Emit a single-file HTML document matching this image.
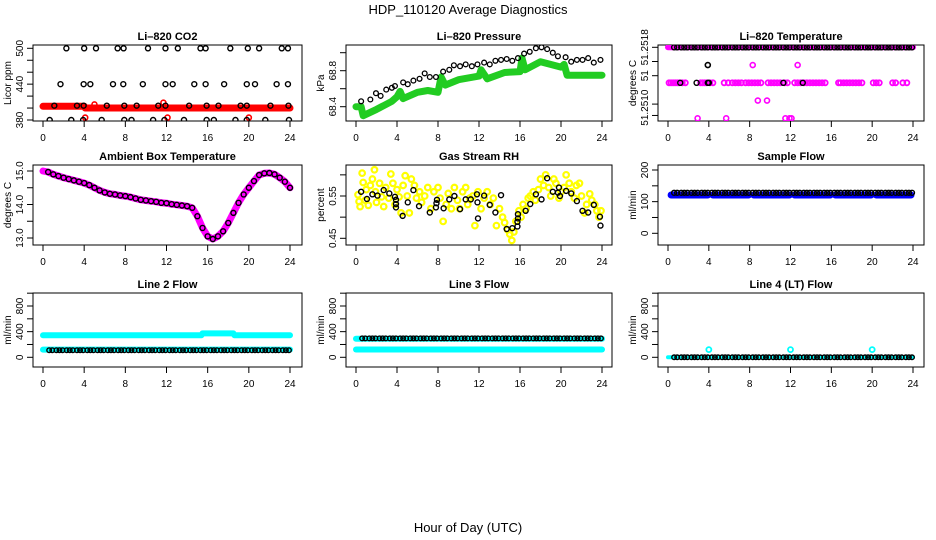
<!DOCTYPE html>
<html><head><meta charset="utf-8">
<style>
html,body{margin:0;padding:0;background:#fff;}
svg{display:block;font-family:"Liberation Sans",sans-serif;}
</style></head>
<body>
<svg id="chart" width="936" height="540" viewBox="0 0 936 540" xmlns="http://www.w3.org/2000/svg">
<text x="468" y="14" font-size="13" text-anchor="middle">HDP_110120  Average Diagnostics</text>
<text x="468" y="532" font-size="13" text-anchor="middle">Hour of Day (UTC)</text>
</svg>
<script>
// ---------- data ----------
const xTicks = [0,4,8,12,16,20,24];
const obsHours = [0.6,0.9,1.3,1.6,1.9,2.3,2.6,2.9,3.3,3.6,3.9,4.3,4.6,4.9,5.3,5.6,5.9,6.3,6.6,6.9,7.3,7.6,7.9,8.3,8.6,8.9,9.3,9.6,9.9,10.3,10.6,10.9,11.3,11.6,11.9,12.3,12.6,12.9,13.3,13.6,13.9,14.3,14.6,14.9,15.3,15.6,15.9,16.3,16.6,16.9,17.3,17.6,17.9,18.3,18.6,18.9,19.3,19.6,19.9,20.3,20.6,20.9,21.3,21.6,21.9,22.3,22.6,22.9,23.3,23.6,23.9];

// CO2
const co2H500 = [2.27,4.0,5.15,7.25,7.83,10.2,11.9,13.1,15.3,15.8,18.2,19.9,21.0,23.2,23.8];
const co2H440 = [1.7,3.95,4.6,6.8,7.8,9.7,11.9,12.6,14.7,15.8,17.6,19.8,20.6,22.7,23.8];
const co2H404 = [1.1,3.3,3.95,6.2,7.9,9.1,11.2,11.9,14.2,15.9,17.05,19.2,19.8,22.1,23.85];
const co2H380 = [0.65,2.75,3.9,5.7,7.9,8.6,10.7,11.8,13.7,15.9,16.6,18.7,19.8,21.6,23.9];
const co2Levels = [500,440,404,380];
const co2BandH = [0,4,4.1,24];
const co2BandV = [403,403,400,400];
const co2RedH = [4.1,5.0,11.7,12.1,20.0];
const co2RedV = [384,406,409,384,384];

// Pressure
const presH = [0.5,1.4,1.95,2.4,2.95,3.5,3.8,4.6,5.05,5.6,6.2,6.7,7.2,7.8,8.5,9.1,9.55,10.15,10.7,11.3,11.85,12.5,13.05,13.6,14.15,14.7,15.25,15.8,16.4,16.95,17.55,18.1,18.65,19.2,19.7,20.45,21.0,21.55,22.1,22.65,23.2,23.85];
const presV = [68.46,68.48,68.55,68.52,68.59,68.61,68.63,68.67,68.65,68.69,68.71,68.77,68.73,68.73,68.79,68.81,68.86,68.85,68.87,68.85,68.87,68.89,68.87,68.91,68.92,68.93,68.91,68.94,68.99,69.01,69.05,69.06,69.04,69.0,68.96,68.95,68.9,68.92,68.92,68.94,68.89,68.92];
const presGreenH = [0,0.5,0.7,2,3.5,4,4.3,4.6,6,7,8,8.3,8.7,10,12,12.2,12.8,14.5,16,16.2,16.5,18,20,20.3,20.6,24];
const presGreenV = [68.40,68.40,68.30,68.37,68.46,68.51,68.57,68.49,68.56,68.58,68.56,68.73,68.64,68.70,68.74,68.81,68.71,68.78,68.79,68.94,68.81,68.90,68.84,68.87,68.75,68.75];

// Li-820 temperature
const tempTopLevel = [51.2518];
const tempMidLevel = [51.2513];
const tempMidMagH = [0.1,0.3,0.5,0.7,0.9,1.1,1.4,1.7,3.2,3.4,3.6,3.8,4.1,4.4,5.5,5.9,6.3,6.6,6.9,7.2,7.6,7.9,8.2,8.5,8.8,9.1,9.8,10.1,10.4,10.7,11.0,11.4,11.7,12.4,12.7,13.0,13.3,13.6,13.9,14.2,14.5,14.8,15.1,15.4,16.7,16.9,17.2,17.5,17.8,18.1,18.4,18.7,19.0,20.1,20.4,20.7,22.0,22.3,23.0,23.4];
const tempMidBlackH = [1.2,2.8,3.9,4.0,11.3,13.2];
const tempOddH = [3.9,8.3,12.7,8.8,9.7,2.9,5.7,11.5,11.9,12.1];
const tempOddV = [51.25155,51.25155,51.25155,51.25105,51.25105,51.2508,51.2508,51.2508,51.2508,51.2508];
const tempOddBlack = [1,0,0,0,0,0,0,0,0,0];

// Ambient
const ambH = [0,0.5,1,1.5,2,2.5,3,3.5,4,4.5,5,5.5,6,6.5,7,7.5,8,8.5,9,9.5,10,10.5,11,11.5,12,12.5,13,13.5,14,14.5,15,15.5,16,16.5,17,17.5,18,18.5,19,19.5,20,20.5,21,21.5,22,22.5,23,23.5,24];
const ambV = [15.0,14.97,14.9,14.85,14.8,14.76,14.72,14.68,14.64,14.58,14.5,14.42,14.36,14.32,14.3,14.27,14.25,14.22,14.18,14.14,14.12,14.1,14.08,14.05,14.04,14.01,13.99,13.97,13.95,13.9,13.65,13.3,13.05,12.97,13.05,13.2,13.45,13.75,14.05,14.3,14.5,14.7,14.88,14.93,14.94,14.9,14.8,14.68,14.5];

// RH
const rhBlackH = [0.5,1.07,1.6,2.1,2.7,3.25,3.8,3.9,3.9,3.9,4.55,5.05,5.6,6.15,7.2,7.8,7.9,7.85,8.55,9.1,9.6,10.15,10.7,11.2,11.8,11.85,11.9,12.5,13.05,13.6,14.15,14.7,15.25,15.75,15.75,15.8,15.8,16.55,17.0,17.55,18.1,18.65,19.2,19.7,19.8,19.9,20.5,21.0,21.55,22.1,22.65,23.2,23.8,23.85];
const rhBlackV = [0.56,0.543,0.554,0.551,0.564,0.556,0.548,0.541,0.531,0.523,0.503,0.535,0.564,0.526,0.511,0.523,0.541,0.533,0.521,0.542,0.55,0.519,0.542,0.542,0.554,0.535,0.497,0.551,0.529,0.511,0.552,0.472,0.474,0.478,0.489,0.497,0.507,0.515,0.531,0.554,0.542,0.592,0.56,0.558,0.57,0.55,0.562,0.556,0.538,0.515,0.511,0.529,0.501,0.48];
const rhYelH = [0.2,0.3,0.4,0.6,0.7,0.9,1.0,1.2,1.4,1.6,1.8,1.9,2.0,2.3,2.5,2.7,2.9,3.2,3.4,3.6,3.8,4.0,4.2,4.4,4.6,4.8,5.0,5.2,5.4,5.7,5.9,6.2,6.4,6.7,7.0,7.3,7.6,8.0,8.2,8.5,8.8,9.0,9.3,9.6,9.9,10.1,10.4,10.7,10.9,11.1,11.4,11.6,11.9,12.2,12.5,12.8,13.1,13.4,13.7,14.0,14.3,14.5,14.8,15.0,15.2,15.4,15.6,15.9,16.1,16.3,16.6,16.8,17.0,17.3,17.5,17.8,18.0,18.3,18.5,18.8,19.0,19.3,19.5,19.8,20.0,20.3,20.5,20.8,21.0,21.3,21.5,21.8,22.0,22.3,22.5,22.8,23.0,23.3,23.5,23.7,23.9];
const rhYelV = [0.553,0.537,0.525,0.604,0.582,0.54,0.565,0.528,0.575,0.59,0.612,0.56,0.535,0.58,0.548,0.525,0.57,0.545,0.602,0.58,0.53,0.565,0.548,0.51,0.575,0.598,0.55,0.51,0.59,0.575,0.545,0.56,0.535,0.55,0.57,0.52,0.56,0.57,0.545,0.49,0.53,0.556,0.52,0.57,0.54,0.52,0.56,0.57,0.53,0.545,0.55,0.48,0.56,0.52,0.545,0.56,0.53,0.545,0.48,0.52,0.5,0.487,0.47,0.46,0.445,0.465,0.49,0.515,0.5,0.53,0.52,0.545,0.55,0.56,0.54,0.565,0.59,0.575,0.6,0.57,0.55,0.59,0.58,0.545,0.56,0.57,0.6,0.58,0.56,0.545,0.575,0.58,0.55,0.51,0.53,0.555,0.54,0.53,0.515,0.5,0.515];

// Flows
const flowSegStart = [0.3,4.4,8.4,12.4,16.4,20.4];
const flowSegEnd = [3.9,7.9,11.9,15.9,19.9,23.8];
const sampleBlue = [121];
const sampleBlack = [128];
const line2CyanHiH = [0,15.4,15.5,18.5,18.6,24];
const line2CyanHiV = [345,345,372,372,345,345];
const line2CyanLo = [120];
const line2Black = [110];
const line3CyanHi = [290];
const line3Black = [295];
const line3CyanLo = [122];
const line4Level = [0];
const line4SpikeH = [4,12,20];
const line4SpikeV = [120,120,120];

// ---------- drawing ----------
const NS = 'http://www.w3.org/2000/svg';
const svg = document.getElementById('chart');
function el(tag, attrs, parent){
  const e = document.createElementNS(NS, tag);
  for (const k in attrs) e.setAttribute(k, attrs[k]);
  (parent||svg).appendChild(e);
  return e;
}
function panel(cfg){
  const g = el('g', {});
  
  
  const sx = h => cfg.x0 + h/24*(cfg.x24-cfg.x0);
  const sy = v => cfg.ya + (v-cfg.va)/(cfg.vb-cfg.va)*(cfg.yb-cfg.ya);
  const box = el('rect', {x:cfg.L, y:cfg.T, width:cfg.R-cfg.L, height:cfg.B-cfg.T, fill:'none', stroke:'#000', 'stroke-width':1}, g);
  
  
  const t = el('text', {x:(cfg.L+cfg.R)/2, y:cfg.T-5, 'font-size':11, 'font-weight':'bold', 'text-anchor':'middle'}, g);
  t.textContent = cfg.title;
  
  
  xTicks.forEach(h => {
    const tk = el('line', {x1:sx(h), x2:sx(h), y1:cfg.B, y2:cfg.B+6, stroke:'#000'}, g);
    
    
    const lb = el('text', {x:sx(h), y:cfg.B+20, 'font-size':10, 'text-anchor':'middle'}, g);
    lb.textContent = h;
    
    
  });
  cfg.yTicks.forEach(v => {
    const tk = el('line', {x1:cfg.L-6, x2:cfg.L, y1:sy(v), y2:sy(v), stroke:'#000'}, g);
    
    
  });
  cfg.yLabels.forEach((v,i) => {
    const y = sy(v), x = cfg.L-10;
    const lb = el('text', {x:x, y:y, 'font-size':10, 'text-anchor':'middle', transform:`rotate(-90 ${x} ${y})`}, g);
    lb.textContent = cfg.yLabelText[i];
    
    
  });
  const yt = el('text', {x:cfg.L-22, y:(cfg.T+cfg.B)/2, 'font-size':10, 'text-anchor':'middle', transform:`rotate(-90 ${cfg.L-22} ${(cfg.T+cfg.B)/2})`}, g);
  yt.textContent = cfg.ylab;
  
  
  const clip = 'clip-' + cfg.name;
  const cp = el('clipPath', {id:clip}, g);
  el('rect', {x:cfg.L, y:cfg.T, width:cfg.R-cfg.L, height:cfg.B-cfg.T}, cp);
  const plot = el('g', {'clip-path':`url(#${clip})`}, g);
  return {g:plot, sx, sy};
}
function band(p, hs, vs, color, w, name){
  const d = hs.map((h,i)=>(i?'L':'M')+p.sx(h).toFixed(1)+' '+p.sy(vs[i]).toFixed(1)).join(' ');
  const e = el('path', {d:d, fill:'none', stroke:color, 'stroke-width':w, 'stroke-linecap':'round', 'stroke-linejoin':'round'}, p.g);
  
  
}
function pts(p, hs, vs, color, name, r, sw){
  hs.forEach((h,i) => {
    const c = el('circle', {cx:p.sx(h), cy:p.sy(vs[i]), r:r||2.5, fill:'none', stroke:color, 'stroke-width':sw||1.3}, p.g);
    
    
  });
}
function segBands(p, level, color, w, name){
  flowSegStart.forEach((s,i) => band(p, [s, flowSegEnd[i]], [level, level], color, w, name));
}
const rep = (arr, v) => arr.map(() => v);

const C1 = {L:33, R:302, x0:43, x24:290};
const C2 = {L:346, R:612, x0:356, x24:602};
const C3 = {L:658, R:924, x0:668, x24:913};
const R1 = {T:45, B:121}, R2 = {T:165, B:245}, R3 = {T:293, B:367};

// Panel 1 CO2
let p = panel(Object.assign({name:'panel-co2', title:'Li\u2013820 CO2', ylab:'Licor ppm', ya:120, va:380, yb:48.3, vb:500,
  yTicks:[380,400,420,440,460,480,500], yLabels:[380,440,500], yLabelText:['380','440','500']}, C1, R1));
band(p, co2BandH, co2BandV, '#ff0000', 7, 'co2-red-band');
pts(p, co2RedH, co2RedV, '#ff0000', 'co2-red-point', 2.5, 1.6);
[co2H500, co2H440, co2H404, co2H380].forEach((arr,i) => pts(p, arr, rep(arr, co2Levels[i]), '#000', 'co2-black-point', 2.5, 1.4));

// Panel 2 Pressure
p = panel(Object.assign({name:'panel-pressure', title:'Li\u2013820 Pressure', ylab:'kPa', ya:106.7, va:68.4, yb:70.7, vb:68.8,
  yTicks:[68.4,68.6,68.8,69.0], yLabels:[68.4,68.8], yLabelText:['68.4','68.8']}, C2, R1));
band(p, presGreenH, presGreenV, '#22cc22', 7, 'pressure-green-band');
pts(p, presH, presV, '#000', 'pressure-black-point', 2.4, 1.3);

// Panel 3 Li-820 temperature
p = panel(Object.assign({name:'panel-li820-temp', title:'Li\u2013820 Temperature', ylab:'degrees C', ya:47.3, va:51.2518, yb:118.3, vb:51.2508,
  yTicks:[51.2518,51.2516,51.2514,51.2510,51.25084], yLabels:[51.2518,51.2514,51.25095], yLabelText:['51.2518','51','51.2510']}, C3, R1));
band(p, [0,24], [tempTopLevel[0], tempTopLevel[0]], '#ff00ff', 6, 'temp-magenta-band');
pts(p, obsHours, rep(obsHours, tempTopLevel[0]), '#000', 'temp-black-point', 2.5, 1.4);
pts(p, tempMidMagH, rep(tempMidMagH, tempMidLevel[0]), '#ff00ff', 'temp-magenta-point', 2.5, 1.8);
pts(p, tempMidBlackH, rep(tempMidBlackH, tempMidLevel[0]), '#000', 'temp-black-point', 2.5, 1.4);
tempOddH.forEach((h,i) => pts(p, [h], [tempOddV[i]], tempOddBlack[i] ? '#000' : '#ff00ff', 'temp-outlier-point', 2.5, 1.6));

// Panel 4 Ambient
p = panel(Object.assign({name:'panel-ambient-temp', title:'Ambient Box Temperature', ylab:'degrees C', ya:238, va:13, yb:171, vb:15,
  yTicks:[13,13.5,14,14.5,15], yLabels:[13,14,15], yLabelText:['13.0','14.0','15.0']}, C1, R2));
band(p, ambH, ambV, '#ff00ff', 7, 'ambient-magenta-band');
pts(p, ambH.slice(1), ambV.slice(1), '#000', 'ambient-black-point', 2.5, 1.4);

// Panel 5 RH
p = panel(Object.assign({name:'panel-gas-rh', title:'Gas Stream RH', ylab:'percent', ya:196, va:0.55, yb:238.3, vb:0.45,
  yTicks:[0.45,0.5,0.55,0.6], yLabels:[0.45,0.55], yLabelText:['0.45','0.55']}, C2, R2));
pts(p, rhYelH, rhYelV, '#ffff00', 'rh-yellow-point', 2.8, 2.2);
pts(p, rhBlackH, rhBlackV, '#000', 'rh-black-point', 2.5, 1.4);

// Panel 6 Sample flow
p = panel(Object.assign({name:'panel-sample-flow', title:'Sample Flow', ylab:'ml/min', ya:233.3, va:0, yb:170, vb:200,
  yTicks:[0,50,100,150,200], yLabels:[0,100,200], yLabelText:['0','100','200']}, C3, R2));
segBands(p, sampleBlue[0], '#0000ff', 7, 'sample-blue-band');
pts(p, obsHours, rep(obsHours, sampleBlack[0]), '#000', 'sample-black-point', 2.5, 1.4);

// Row 3 flows
const flowCfg = {ya:357.3, va:0, yb:306, vb:800, yTicks:[0,200,400,600,800,1000], yLabels:[0,400,800], yLabelText:['0','400','800'], ylab:'ml/min'};
p = panel(Object.assign({name:'panel-line2-flow', title:'Line 2 Flow'}, flowCfg, C1, R3));
band(p, line2CyanHiH, line2CyanHiV, '#00ffff', 6, 'line2-cyan-high');
band(p, [0,24], [line2CyanLo[0], line2CyanLo[0]], '#00ffff', 6, 'line2-cyan-low');
pts(p, obsHours, rep(obsHours, line2Black[0]), '#000', 'line2-black-point', 2.3, 1.4);

p = panel(Object.assign({name:'panel-line3-flow', title:'Line 3 Flow'}, flowCfg, C2, R3));
band(p, [0,24], [line3CyanHi[0], line3CyanHi[0]], '#00ffff', 6, 'line3-cyan-high');
band(p, [0,24], [line3CyanLo[0], line3CyanLo[0]], '#00ffff', 6, 'line3-cyan-low');
pts(p, obsHours, rep(obsHours, line3Black[0]), '#000', 'line3-black-point', 2.3, 1.4);

p = panel(Object.assign({name:'panel-line4-flow', title:'Line 4 (LT) Flow'}, flowCfg, C3, R3));
band(p, [0,24], [line4Level[0], line4Level[0]], '#00ffff', 4, 'line4-cyan-band');
pts(p, obsHours, rep(obsHours, line4Level[0]), '#000', 'line4-black-point', 2.3, 1.4);
pts(p, line4SpikeH, line4SpikeV, '#00ffff', 'line4-cyan-spike', 2.5, 1.8);
</script>
</body></html>
